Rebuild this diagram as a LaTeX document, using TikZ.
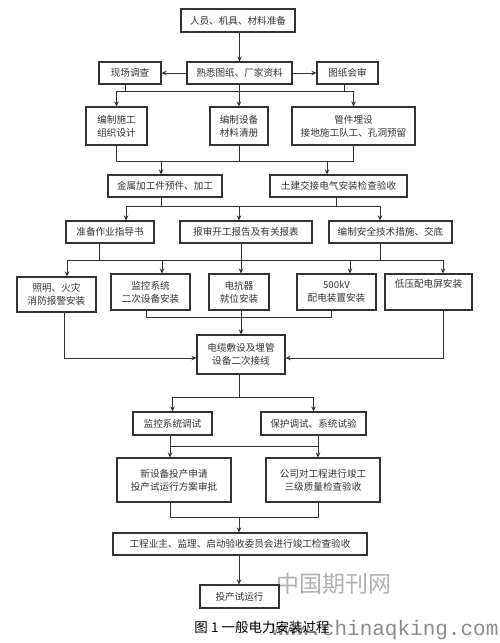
\documentclass[tikz,border=0pt]{standalone}
\usepackage{fontspec}
\newfontfamily\cjk{Noto Sans CJK SC}
\newfontfamily\wmmono{Liberation Mono}
\usetikzlibrary{arrows.meta}
\definecolor{ink}{HTML}{333333}
\begin{document}
\begin{tikzpicture}[x=1pt,y=-1pt,
  box/.style={draw=ink,line width=1.1pt,inner sep=0pt,align=center,text=ink,
    font=\cjk\fontsize{9.6}{13}\selectfont},
  ln/.style={draw=ink,line width=1pt},
  arr/.style={ln,-{Stealth[length=5pt,width=4.5pt]}}]
\fill[white] (0,0) rectangle (500,643);
\useasboundingbox (0,0) rectangle (500,643);
% watermark
\node[text=black!30,font=\cjk\fontsize{23}{23}\selectfont,inner sep=0pt] (wm1) at (334,584) {中国期刊网};
\node[text=black!45,font=\wmmono\fontsize{21}{21}\selectfont,inner sep=0pt] (wm2) at (385,630) {www.chinaqking.com};
% boxes
\node[box,minimum width=114pt,minimum height=23pt] (n1) at (238,20.5) {人员、机具、材料准备};
\node[box,minimum width=62pt,minimum height=22pt] (n2a) at (130,73) {现场调查};
\node[box,minimum width=105pt,minimum height=22pt] (n2) at (239.5,73) {熟悉图纸、厂家资料};
\node[box,minimum width=61pt,minimum height=22pt] (n2b) at (347.5,73) {图纸会审};
\node[box,minimum width=61pt,minimum height=38pt] (n3a) at (116.5,126) {编制施工\\组织设计};
\node[box,minimum width=58pt,minimum height=38pt] (n3b) at (239,126) {编制设备\\材料清册};
\node[box,minimum width=123pt,minimum height=38pt] (n3c) at (353.5,126) {管件埋设\\接地施工队工、孔洞预留};
\node[box,minimum width=114pt,minimum height=22pt] (n4a) at (165,186) {金属加工件预件、加工};
\node[box,minimum width=137pt,minimum height=22pt] (n4b) at (338.5,186) {土建交接电气安装检查验收};
\node[box,minimum width=88pt,minimum height=22pt] (n5a) at (110,232) {准备作业指导书};
\node[box,minimum width=132pt,minimum height=22pt] (n5b) at (246,232) {报审开工报告及有关报表};
\node[box,minimum width=123pt,minimum height=22pt] (n5c) at (390.5,232) {编制安全技术措施、交底};
\node[box,minimum width=79pt,minimum height=35pt] (n6a) at (56.5,294.5) {照明、火灾\\消防报警安装};
\node[box,minimum width=79pt,minimum height=36pt] (n6b) at (150.5,292) {监控系统\\二次设备安装};
\node[box,minimum width=60pt,minimum height=36pt] (n6c) at (239,292) {电抗器\\就位安装};
\node[box,minimum width=79pt,minimum height=36pt] (n6d) at (336.5,292) {500kV\\配电装置安装};
\node[box,minimum width=87pt,minimum height=36pt] (n6e) at (428.5,292) {低压配电屏安装\\\strut};
\node[box,minimum width=88pt,minimum height=39pt] (n7) at (241,354.5) {电缆敷设及埋管\\设备二次接线};
\node[box,minimum width=79pt,minimum height=23pt] (n8a) at (172.5,423.5) {监控系统调试};
\node[box,minimum width=105pt,minimum height=23pt] (n8b) at (313.5,423.5) {保护调试、系统试验};
\node[box,minimum width=114pt,minimum height=44pt] (n9a) at (174,480) {新设备投产申请\\投产试运行方案审批};
\node[box,minimum width=114pt,minimum height=44pt] (n9b) at (323,480) {公司对工程进行竣工\\三级质量检查验收};
\node[box,minimum width=254pt,minimum height=22pt] (n10) at (240,544) {工程业主、监理、启动验收委员会进行竣工检查验收};
\node[box,minimum width=79pt,minimum height=23pt] (n11) at (239.5,596.5) {投产试运行};
\node[font=\cjk\fontsize{13.5}{14}\selectfont,text=black,inner sep=0pt] (cap) at (262,627) {图 1 一般电力安装过程};
% bus coordinates
\coordinate (b1) at (0,91);
\coordinate (b2) at (0,161);
\coordinate (b3) at (0,206);
\coordinate (b4) at (0,260);
\coordinate (b5) at (0,317);
\coordinate (b6) at (0,358);
\coordinate (b7) at (0,397);
\coordinate (b8) at (0,446);
\coordinate (b9) at (0,517);
% connectors
\draw[arr] (n1.south -| n2.north) -- (n2.north);
\draw[arr] (n2.west) -- (n2a.east);
\draw[arr] (n2.east) -- (n2b.west);
% row2 -> row3
\draw[ln] ([xshift=-5pt]n2a.south) -- ([xshift=-5pt]n2a.south |- b1);
\draw[ln] ([xshift=-3.5pt]n2b.south) -- ([xshift=-3.5pt]n2b.south |- b1);
\draw[ln] (n2.south) -- (n2.south |- b1);
\draw[ln] (n3a.north |- b1) -- (n3c.north |- b1);
\draw[arr] (n3a.north |- b1) -- (n3a.north);
\draw[arr] (n3b.north |- b1) -- (n3b.north);
\draw[arr] (n3c.north |- b1) -- (n3c.north);
% row3 -> row4
\draw[ln] (n3a.south) -- (n3a.south |- b2) -- (n3c.south |- b2) -- (n3c.south);
\draw[ln] (n3b.south) -- (n3b.south |- b2);
\draw[arr] ([xshift=-4pt]n4a.north |- b2) -- ([xshift=-4pt]n4a.north);
\draw[arr] ([xshift=-11.5pt]n4b.north |- b2) -- ([xshift=-11.5pt]n4b.north);
% row4 -> row5
\draw[ln] ([xshift=-4pt]n4a.south) -- ([xshift=-4pt]n4a.south |- b3);
\draw[ln] ([xshift=-2.5pt]n4b.south) -- ([xshift=-2.5pt]n4b.south |- b3);
\draw[ln] ([xshift=16pt]n5a.north |- b3) -- ([xshift=-10.5pt]n5c.north |- b3);
\draw[arr] ([xshift=16pt]n5a.north |- b3) -- ([xshift=16pt]n5a.north);
\draw[arr] ([xshift=-7pt]n5b.north |- b3) -- ([xshift=-7pt]n5b.north);
\draw[arr] ([xshift=-10.5pt]n5c.north |- b3) -- ([xshift=-10.5pt]n5c.north);
% row5 -> row6
\draw[ln] ([xshift=-11pt]n5a.south) -- ([xshift=-11pt]n5a.south |- b4);
\draw[ln] ([xshift=-5pt]n5b.south) -- ([xshift=-5pt]n5b.south |- b4);
\draw[ln] ([xshift=-10.5pt]n5c.south) -- ([xshift=-10.5pt]n5c.south |- b4);
\draw[ln] ([xshift=10.5pt]n6a.north |- b4) -- ([xshift=14.5pt]n6e.north |- b4);
\draw[arr] ([xshift=10.5pt]n6a.north |- b4) -- ([xshift=10.5pt]n6a.north);
\draw[arr] ([xshift=11.5pt]n6b.north |- b4) -- ([xshift=11.5pt]n6b.north);
\draw[arr] ([xshift=2pt]n6c.north |- b4) -- ([xshift=2pt]n6c.north);
\draw[arr] ([xshift=13.5pt]n6d.north |- b4) -- ([xshift=13.5pt]n6d.north);
\draw[arr] ([xshift=14.5pt]n6e.north |- b4) -- ([xshift=14.5pt]n6e.north);
% row6 -> n7
\draw[ln] ([xshift=-4.5pt]n6b.south) -- ([xshift=-4.5pt]n6b.south |- b5) -- ([xshift=-5.5pt]n6d.south |- b5) -- ([xshift=-5.5pt]n6d.south);
\draw[arr] ([xshift=2pt]n6c.south) -- ([xshift=2pt]n6c.south |- n7.north);
\draw[arr] ([xshift=7.5pt]n6a.south) -- ([xshift=7.5pt]n6a.south |- b6) -- (n7.west |- b6);
\draw[arr] ([xshift=14.5pt]n6e.south) -- ([xshift=14.5pt]n6e.south |- b6) -- (n7.east |- b6);
% n7 -> row8
\draw[ln] ([xshift=-2pt]n7.south) -- ([xshift=-2pt]n7.south |- b7);
\draw[ln] (n8a.north |- b7) -- (n8b.north |- b7);
\draw[arr] (n8a.north |- b7) -- (n8a.north);
\draw[arr] (n8b.north |- b7) -- (n8b.north);
% row8 -> row9
\draw[ln] ([xshift=-4pt]n9a.north |- n8a.south) -- ([xshift=-4pt]n9a.north |- b8) -- ([xshift=-5pt]n9b.north |- b8) -- ([xshift=-5pt]n9b.north |- n8b.south);
\draw[arr] ([xshift=-4pt]n9a.north |- b8) -- ([xshift=-4pt]n9a.north);
\draw[arr] ([xshift=-5pt]n9b.north |- b8) -- ([xshift=-5pt]n9b.north);
% row9 -> n10
\draw[ln] ([xshift=-4pt]n9a.south) -- ([xshift=-4pt]n9a.south |- b9) -- ([xshift=-5pt]n9b.south |- b9) -- ([xshift=-5pt]n9b.south);
\draw[arr] ([xshift=-1pt]n10.north |- b9) -- ([xshift=-1pt]n10.north);
% n10 -> n11
\draw[arr] ([xshift=-1pt]n10.south) -- ([xshift=-1pt]n10.south |- n11.north);
\end{tikzpicture}
\end{document}
